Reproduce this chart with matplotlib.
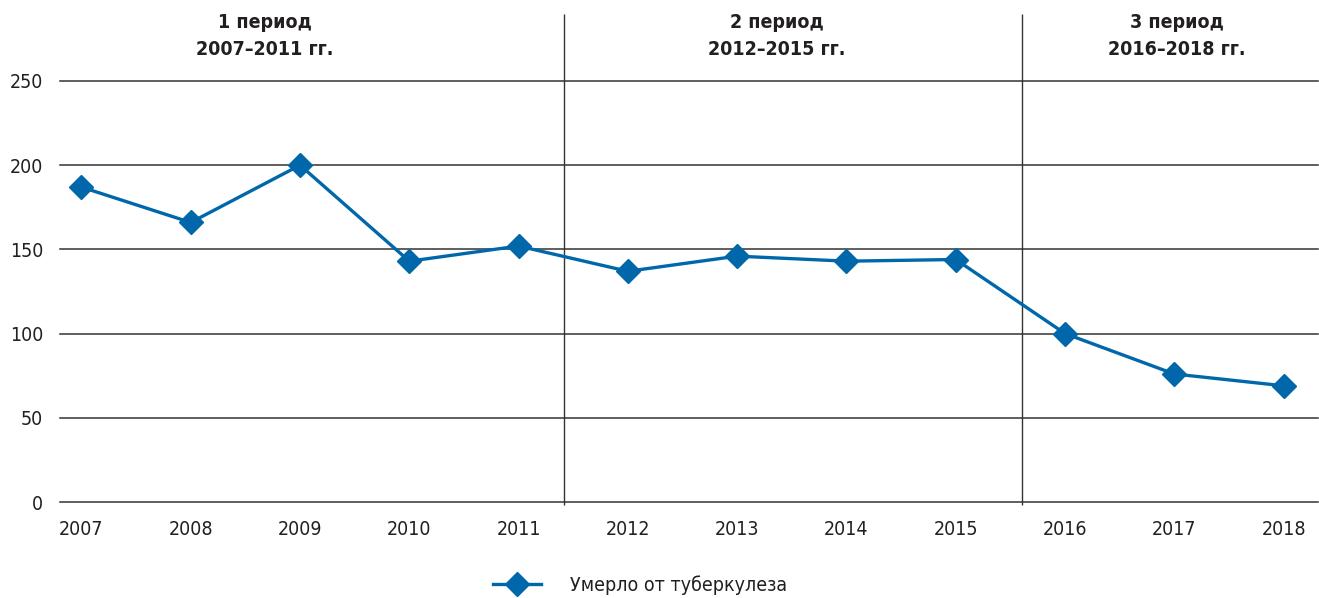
import matplotlib
matplotlib.use('Agg')
import matplotlib.pyplot as plt
import numpy as np

plt.rcParams['font.family'] = ['Liberation Sans Narrow', 'DejaVu Sans']
plt.rcParams['font.stretch'] = 'condensed'

years = ['2007', '2008', '2009', '2010', '2011', '2012', '2013', '2014', '2015', '2016', '2017', '2018']
deaths = [187, 166, 200, 143, 152, 137, 146, 143, 144, 100, 76, 69]
series_name = 'Умерло от туберкулеза'
periods = ['1 период\n2007–2011 гг.', '2 период\n2012–2015 гг.', '3 период\n2016–2018 гг.']
period_pos = [1.68, 6.36, 10.02]
dividers = [4.415, 8.603]

blue = '#0068AA'
grid_col = '#333333'
txt_col = '#231F20'

fig = plt.figure(figsize=(13.19, 5.98), dpi=100)
ax = fig.add_axes([60 / 1319, 96 / 598, 1258 / 1319, 421 / 598])

x = np.arange(len(years))
ax.plot(x, deaths, color=blue, lw=2.4, marker='D', ms=12.5, label=series_name, zorder=3)

ax.set_xlim(-0.196, 11.314)
ax.set_ylim(0, 250)
ax.set_yticks([0, 50, 100, 150, 200, 250])
ax.set_xticks(x)
ax.set_xticklabels(years)
ax.grid(axis='y', color=grid_col, lw=1.1)
for gl in ax.get_ygridlines():
    gl.set_clip_on(False)
ax.set_axisbelow(True)
for s in ax.spines.values():
    s.set_visible(False)
ax.tick_params(length=0, labelsize=14, colors=txt_col)
ax.tick_params(axis='x', pad=13)
ax.tick_params(axis='y', pad=12)

# period dividers, reaching up to the headings
ax.vlines(dividers, -2, 290, color=grid_col, lw=1.0, clip_on=False)

for txt, px in zip(periods, period_pos):
    ax.text(px, 276.5, txt, ha='center', va='center', fontsize=14, fontweight='bold',
            color=txt_col, linespacing=1.55)

fig.legend(loc='center', bbox_to_anchor=(640 / 1319, 1 - 585 / 598), frameon=False,
           fontsize=14, handlelength=2.5, labelcolor=txt_col, handletextpad=1.5)

fig.savefig('out.png', dpi=100)
